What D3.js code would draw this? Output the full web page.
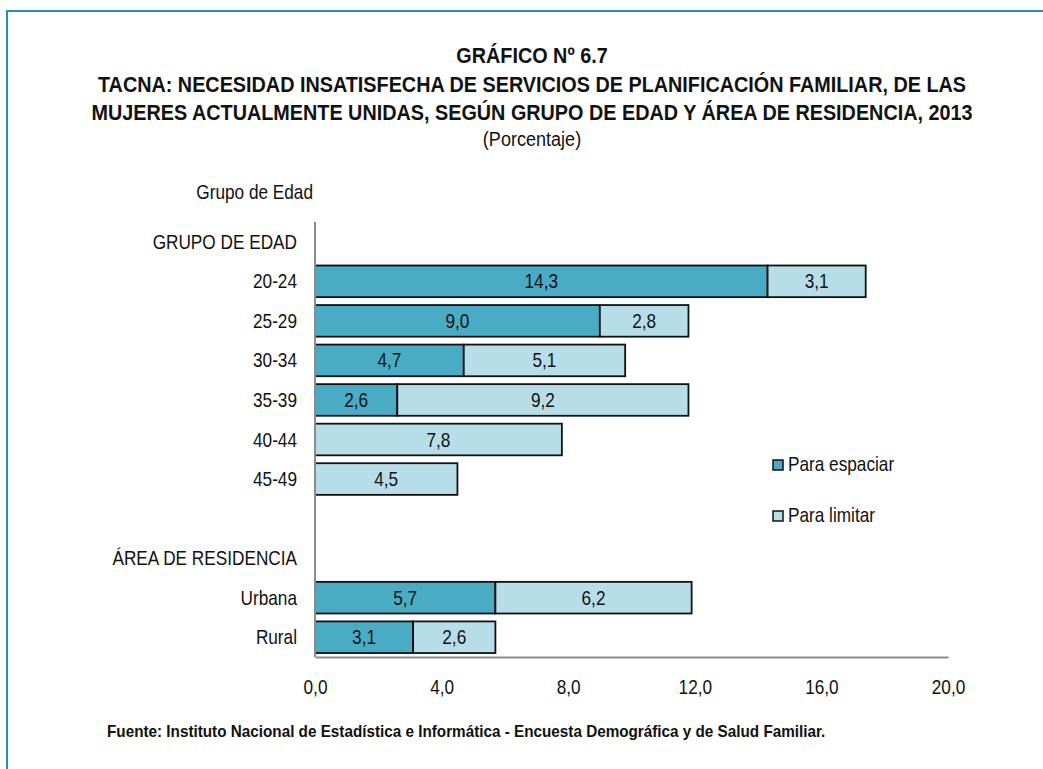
<!doctype html>
<html lang="es">
<head>
<meta charset="utf-8">
<title>Gráfico 6.7</title>
<script src="https://cdnjs.cloudflare.com/ajax/libs/d3/7.8.5/d3.min.js"></script>
<style>
  body { margin: 0; background: #fff; }
  text { font-family: "Liberation Sans", Arial, sans-serif; fill: #111; }
</style>
</head>
<body>
<svg width="1043" height="769" id="svg"></svg>
<script>
// categories (rows, top to bottom); blank string is a spacer row
var categories = ['GRUPO DE EDAD', '20-24', '25-29', '30-34', '35-39', '40-44', '45-49', '', 'ÁREA DE RESIDENCIA', 'Urbana', 'Rural'];
var barRows = ['20-24', '25-29', '30-34', '35-39', '40-44', '45-49', 'Urbana', 'Rural'];
var paraEspaciar = [14.3, 9.0, 4.7, 2.6, null, null, 5.7, 3.1];
var paraLimitar = [3.1, 2.8, 5.1, 9.2, 7.8, 4.5, 6.2, 2.6];
var xTicks = [0, 4, 8, 12, 16, 20];
var seriesNames = ['Para espaciar', 'Para limitar'];
var colors = ['#4aabc5', '#b7dee8'];

var titleLines = [
  'GRÁFICO Nº 6.7',
  'TACNA: NECESIDAD INSATISFECHA DE SERVICIOS DE PLANIFICACIÓN FAMILIAR, DE LAS',
  'MUJERES ACTUALMENTE UNIDAS, SEGÚN GRUPO DE EDAD Y ÁREA DE RESIDENCIA, 2013'
];

var svg = d3.select('#svg');
var fmt = function(v) { return d3.format('.1f')(v).replace('.', ','); };
var narrow = 0.82; // squeeze to look like Arial Narrow

// place a text with a horizontal squeeze
function put(sel, x, y, sx) {
  return sel.attr('transform', 'translate(' + x + ',' + y + ') scale(' + (sx || narrow) + ',1)');
}

// frame
svg.append('path')
  .attr('d', 'M7,769 V11 H1043')
  .attr('fill', 'none')
  .attr('stroke', '#1f8fc6')
  .attr('stroke-width', 2);

// titles
svg.selectAll('.title')
  .data(titleLines)
  .enter().append('text')
  .attr('text-anchor', 'middle')
  .attr('font-size', '22.5px')
  .attr('font-weight', 'bold')
  .each(function(d, i) { put(d3.select(this), 532, 63 + i * 28.5, 0.88); })
  .text(function(d) { return d; });

put(svg.append('text'), 532, 146, 0.86)
  .attr('text-anchor', 'middle')
  .attr('font-size', '21px')
  .text('(Porcentaje)');

var plotLeft = 315, plotRight = 948, plotTop = 222, plotBottom = 657;

var x = d3.scaleLinear().domain([0, 20]).range([plotLeft, plotRight]);
var y = d3.scaleBand().domain(categories).range([plotTop, plotBottom]).paddingInner(0.2).paddingOuter(0.1);

// axis title
put(svg.append('text'), 313, 199)
  .attr('text-anchor', 'end')
  .attr('font-size', '21px')
  .text('Grupo de Edad');

// row labels
svg.selectAll('.rowlab')
  .data(categories.filter(function(d) { return d !== ''; }))
  .enter().append('text')
  .attr('text-anchor', 'end')
  .attr('font-size', '21px')
  .each(function(d) { put(d3.select(this), 297, y(d) + y.bandwidth() / 2 + 7); })
  .text(function(d) { return d; });

// stacked segments
var segs = [];
barRows.forEach(function(c, i) {
  var a = paraEspaciar[i] || 0;
  if (paraEspaciar[i]) segs.push({ cat: c, x0: 0, x1: a, v: paraEspaciar[i], s: 0 });
  segs.push({ cat: c, x0: a, x1: a + paraLimitar[i], v: paraLimitar[i], s: 1 });
});

svg.selectAll('rect.bar')
  .data(segs)
  .enter().append('rect')
  .attr('class', 'bar')
  .attr('x', function(d) { return x(d.x0); })
  .attr('y', function(d) { return y(d.cat); })
  .attr('width', function(d) { return x(d.x1) - x(d.x0); })
  .attr('height', y.bandwidth())
  .attr('fill', function(d) { return colors[d.s]; })
  .attr('stroke', '#111')
  .attr('stroke-width', 1.8);

svg.selectAll('text.val')
  .data(segs)
  .enter().append('text')
  .attr('class', 'val')
  .attr('text-anchor', 'middle')
  .attr('font-size', '21px')
  .each(function(d) { put(d3.select(this), (x(d.x0) + x(d.x1)) / 2, y(d.cat) + y.bandwidth() / 2 + 7); })
  .text(function(d) { return fmt(d.v); });

// axes
svg.append('line')
  .attr('x1', plotLeft).attr('x2', plotLeft)
  .attr('y1', plotTop).attr('y2', plotBottom)
  .attr('stroke', '#8c8c8c').attr('stroke-width', 2);

var xAxis = svg.append('g')
  .attr('transform', 'translate(0,' + plotBottom + ')')
  .call(d3.axisBottom(x).tickValues(xTicks).tickSize(0).tickPadding(22).tickFormat(fmt));
xAxis.select('.domain').attr('stroke', '#8c8c8c').attr('stroke-width', 2);
xAxis.selectAll('text')
  .attr('font-size', '21px').attr('fill', '#111')
  .attr('transform', 'scale(' + narrow + ',1)')
  .style('font-family', '"Liberation Sans", Arial, sans-serif');

// legend
var legend = svg.selectAll('.leg')
  .data(seriesNames)
  .enter().append('g')
  .attr('transform', function(d, i) { return 'translate(773,' + (460 + i * 51) + ')'; });
legend.append('rect')
  .attr('width', 10).attr('height', 10)
  .attr('fill', function(d, i) { return colors[i]; })
  .attr('stroke', '#111').attr('stroke-width', 1.5);
legend.append('text')
  .attr('font-size', '21px')
  .each(function() { put(d3.select(this), 15, 11); })
  .text(function(d) { return d; });

// source
put(svg.append('text'), 107, 737, 0.955)
  .attr('font-size', '16px')
  .attr('font-weight', 'bold')
  .text('Fuente: Instituto Nacional de Estadística e Informática - Encuesta Demográfica y de Salud Familiar.');
</script>
</body>
</html>
